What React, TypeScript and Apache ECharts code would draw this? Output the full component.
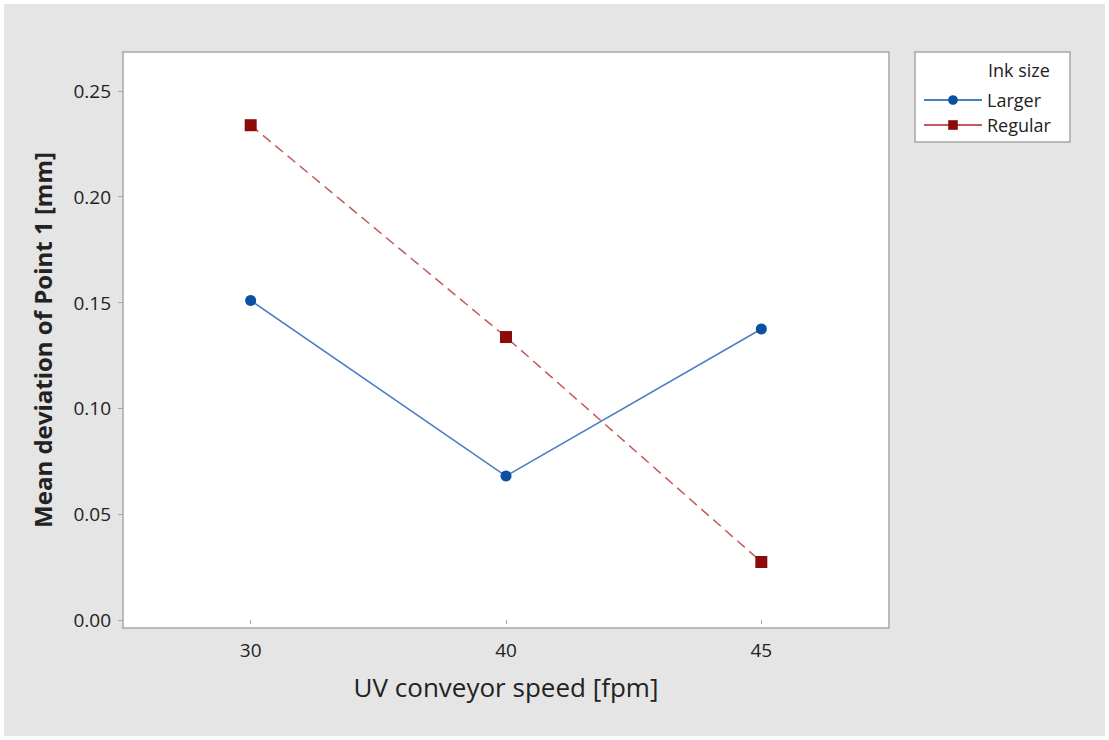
import React, { useEffect, useRef } from "react";
import * as echarts from "echarts";

const speeds = ["30", "40", "45"];
const larger = [0.151, 0.068, 0.1375];
const regular = [0.2338, 0.1337, 0.0274];
const yTicks = [0, 0.05, 0.1, 0.15, 0.2, 0.25];

const FONT = "'Open Sans', 'Noto Sans', sans-serif";

export default function App() {
  const ref = useRef<HTMLDivElement>(null);
  useEffect(() => {
    if (!ref.current) return;
    const chart = echarts.init(ref.current, null, { renderer: "svg" });
    chart.setOption({
      animation: false,
      backgroundColor: "#ffffff",
      textStyle: { fontFamily: FONT },
      graphic: [
        {
          type: "rect",
          z: -10,
          shape: { x: 4, y: 4, width: 1101, height: 732 },
          style: { fill: "#e5e5e5" },
          silent: true,
        },
        {
          type: "rect",
          z: -5,
          shape: { x: 915, y: 52, width: 155, height: 90 },
          style: { fill: "#ffffff", stroke: "#a6a6a6", lineWidth: 1.5 },
          silent: true,
        },
        {
          type: "text",
          x: 988,
          y: 61,
          style: { text: "Ink size", fill: "#222222", font: `18px ${FONT}` },
          silent: true,
        },
      ],
      grid: {
        left: 123,
        top: 52,
        width: 766,
        height: 576,
        show: true,
        backgroundColor: "#ffffff",
        borderColor: "#a6a6a6",
        borderWidth: 1.5,
      },
      legend: {
        orient: "vertical",
        left: 918,
        top: 86,
        itemWidth: 58,
        itemHeight: 12,
        itemGap: 7,
        textStyle: { fontSize: 18, color: "#222222", fontFamily: FONT },
        data: [
          { name: "Larger" },
          { name: "Regular", lineStyle: { type: "solid" } },
        ],
      },
      xAxis: {
        type: "category",
        data: speeds,
        boundaryGap: true,
        name: "UV conveyor speed [fpm]",
        nameLocation: "middle",
        nameGap: 46,
        nameTextStyle: { fontSize: 26, color: "#222222", fontFamily: FONT },
        axisLine: { show: false },
        axisTick: { show: true, alignWithLabel: true, length: 4, lineStyle: { color: "#a6a6a6" } },
        axisLabel: { fontSize: 19, color: "#222222", margin: 12 },
        splitLine: { show: false },
      },
      yAxis: {
        type: "value",
        min: -0.0038,
        max: 0.2684,
        name: "Mean deviation of Point 1 [mm]",
        nameLocation: "middle",
        nameGap: 69,
        nameTextStyle: { fontSize: 24, fontWeight: "bold", color: "#222222", fontFamily: FONT },
        axisLine: { show: false },
        axisTick: { show: true, length: 5, customValues: yTicks, lineStyle: { color: "#a6a6a6" } },
        axisLabel: {
          fontSize: 19,
          color: "#222222",
          margin: 12,
          customValues: yTicks,
          formatter: (v: number) => v.toFixed(2),
        },
        splitLine: { show: false },
      },
      series: [
        {
          name: "Larger",
          type: "line",
          data: larger,
          symbol: "circle",
          symbolSize: 11,
          itemStyle: { color: "#0b4ea2" },
          lineStyle: { color: "#4a7fc4", width: 1.5 },
        },
        {
          name: "Regular",
          type: "line",
          data: regular,
          symbol: "rect",
          symbolSize: 12,
          itemStyle: { color: "#8c0a0a" },
          lineStyle: { color: "#c45a5a", width: 1.5, type: [10, 6] },
        },
      ],
    });
    return () => chart.dispose();
  }, []);
  return (
    <div
      ref={ref}
      style={{ position: "fixed", left: 0, top: 0, width: 1109, height: 740 }}
    />
  );
}
